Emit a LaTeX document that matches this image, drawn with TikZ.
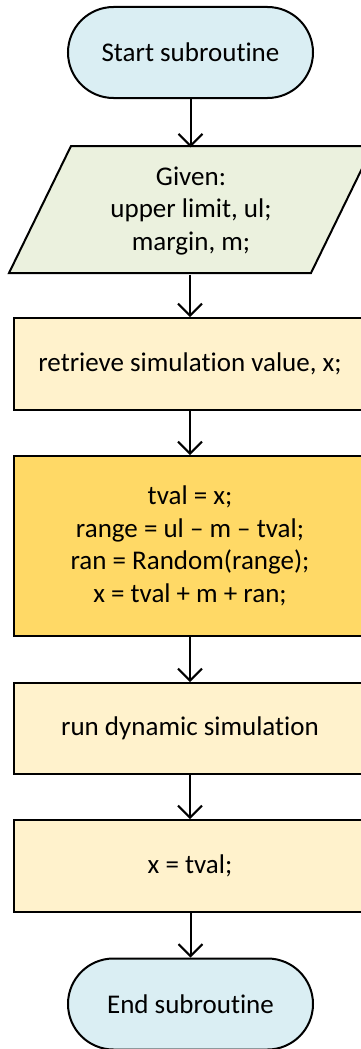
\documentclass[tikz,border=0pt]{standalone}
\usepackage{fontspec}
\setmainfont{Carlito}[Ligatures={NoCommon}]
\usetikzlibrary{shapes.misc,arrows.meta}
\definecolor{termfill}{HTML}{DAEEF3}
\definecolor{iofill}{HTML}{EBF1DE}
\definecolor{procfill}{HTML}{FFF2CC}
\definecolor{mainfill}{HTML}{FFD966}
\begin{document}
\begin{tikzpicture}[x=1pt,y=-1pt,
  every node/.style={font=\fontsize{27}{32.5}\selectfont, align=center, inner sep=0pt},
  term/.style={rounded rectangle, draw, line width=2pt, fill=termfill, minimum width=245pt, minimum height=91pt},
  proc/.style={rectangle, draw, line width=2pt, fill=procfill, minimum width=352pt},
  link/.style={line width=2pt, -{Straight Barb[length=12pt,width=24pt,line width=2pt]}}]
\useasboundingbox (0,0) rectangle (361,1049);
\node[term] (start) at (190.5,52.5) {Start subroutine};
\draw[line width=2pt, fill=iofill] (71,146) -- (373,146) -- (311,273) -- (9,273) -- cycle;
\node[minimum width=300pt, minimum height=127pt] (given) at (191,211) {Given:\\upper limit, ul;\\margin, m;};
\node[proc, minimum height=92pt] (retr) at (190,364) {retrieve simulation value, x;};
\node[proc, fill=mainfill, minimum height=180pt] (calc) at (190,546) {tval = x;\\range = ul -- m -- tval;\\ran = Random(range);\\x = tval + m + ran;};
\node[proc, minimum height=91pt] (run) at (190,728.5) {run dynamic simulation};
\node[proc, minimum height=92pt] (reset) at (190,866) {x = tval;};
\node[term] (end) at (190.5,1004) {End subroutine};
\draw[link] (start.south) -- (start.south |- given.north);
\draw[link] (given.south -| retr.north) -- (retr.north);
\draw[link] (retr) -- (calc);
\draw[link] (calc) -- (run);
\draw[link] (run) -- (reset);
\draw[link] (reset.south) -- (reset.south -| end.north) -- (end.north);
\end{tikzpicture}
\end{document}
